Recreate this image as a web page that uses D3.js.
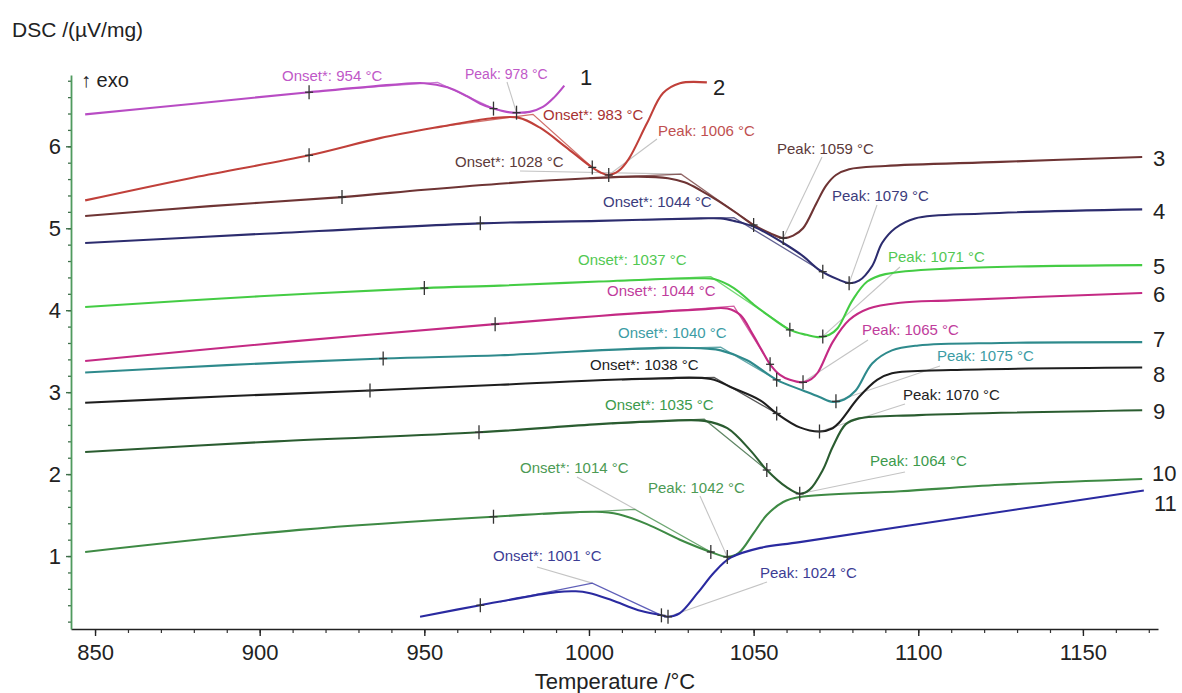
<!DOCTYPE html>
<html>
<head>
<meta charset="utf-8">
<script src="https://cdn.jsdelivr.net/npm/d3@7/dist/d3.min.js"></script>
<style>
  body { margin: 0; background: #fff; }
  svg { display: block; }
  text { font-family: "Liberation Sans", Arial, Helvetica, sans-serif; }
</style>
</head>
<body>
<svg id="chart" width="1182" height="693"></svg>
<script>
// ---- DSC traces: [temperature °C, DSC µV/mg] ----
const curve1 = [[847,6.39],[880,6.52],[915,6.66],[940,6.75],[950,6.77],[957,6.72],[963,6.61],[967,6.52],[971,6.46],[975,6.42],[978,6.41],[982,6.42],[986,6.48],[989.5,6.60],[992.5,6.74]];
const curve2 = [[847,5.34],[880,5.62],[915,5.89],[936.5,6.10],[955,6.24],[970,6.34],[978.5,6.35],[985,6.23],[993,5.99],[1000.3,5.76],[1003.5,5.68],[1006,5.65],[1009,5.70],[1012,5.84],[1017.6,6.28],[1022.5,6.65],[1027.6,6.77],[1035.8,6.78]];
const curve3 = [[847,5.15],[885,5.27],[925,5.38],[950,5.47],[975,5.55],[1000,5.61],[1015,5.63],[1024,5.61],[1029,5.56],[1034,5.46],[1039,5.34],[1045,5.18],[1050,5.04],[1055,4.94],[1059,4.88],[1062,4.91],[1065,5.00],[1069,5.30],[1072,5.52],[1075,5.65],[1079,5.72],[1090,5.76],[1125,5.81],[1168,5.87]];
const curve4 = [[847,4.82],[900,4.93],[967,5.06],[1003,5.09],[1034,5.12],[1040,5.12],[1044,5.09],[1050,5.02],[1059,4.82],[1065,4.66],[1070,4.49],[1076,4.37],[1079,4.33],[1082,4.36],[1086,4.54],[1089,4.82],[1093,5.00],[1099,5.12],[1120,5.18],[1168,5.23]];
const curve5 = [[847,4.04],[900,4.17],[950,4.27],[973,4.30],[1003,4.35],[1033,4.39],[1038,4.38],[1044,4.27],[1050,4.07],[1054,3.95],[1061,3.76],[1066,3.70],[1070,3.67],[1073,3.70],[1075.5,3.78],[1080,4.12],[1084.5,4.35],[1090,4.44],[1110,4.51],[1168,4.55]];
const curve6 = [[847,3.38],[910,3.62],[971.5,3.83],[1003,3.93],[1034,4.01],[1042,4.02],[1046,3.94],[1049.5,3.72],[1052.5,3.51],[1055,3.34],[1058,3.21],[1061,3.15],[1065,3.12],[1067.5,3.16],[1069.5,3.24],[1074,3.61],[1079,3.88],[1085,4.02],[1094.5,4.09],[1110,4.12],[1168,4.21]];
const curve7 = [[847,3.24],[890,3.33],[937.5,3.41],[973,3.45],[1021.6,3.54],[1036,3.53],[1040,3.51],[1048,3.39],[1057,3.15],[1065,3.02],[1070,2.94],[1074,2.88],[1077.5,2.91],[1081,3.02],[1086,3.35],[1092,3.51],[1100,3.57],[1125,3.60],[1168,3.61]];
const curve8 = [[847,2.87],[890,2.95],[933.5,3.02],[973,3.09],[1021.6,3.17],[1037,3.16],[1043.7,3.05],[1052,2.90],[1057,2.74],[1064,2.57],[1070,2.52],[1074,2.56],[1076,2.63],[1082,2.94],[1087.5,3.15],[1092,3.23],[1110,3.27],[1168,3.30]];
const curve9 = [[847,2.27],[905,2.40],[966.6,2.51],[1003,2.61],[1023.7,2.65],[1035,2.65],[1042,2.56],[1049,2.29],[1054,2.05],[1060,1.84],[1064,1.76],[1067,1.81],[1071,2.05],[1074,2.33],[1078,2.61],[1082,2.68],[1100,2.72],[1168,2.78]];
const curve10 = [[847,1.05],[912,1.32],[971,1.48],[1002,1.54],[1009,1.51],[1017.6,1.39],[1027.6,1.20],[1037,1.05],[1042,0.99],[1045.5,1.04],[1050,1.28],[1054,1.50],[1059,1.66],[1064,1.72],[1094.5,1.79],[1125,1.87],[1168,1.94]];
const curve11 = [[948.7,0.26],[967,0.40],[990,0.56],[996,0.57],[1000,0.55],[1007,0.46],[1015,0.34],[1021.6,0.28],[1024,0.26],[1027.5,0.30],[1033,0.55],[1038,0.80],[1043,0.98],[1052,1.10],[1064,1.17],[1115,1.48],[1168.5,1.80]];

const seriesNames = ["1","2","3","4","5","6","7","8","9","10","11"];
const onsetTemps  = [954, 983, 1028, 1044, 1037, 1044, 1040, 1038, 1035, 1014, 1001];
const onsetLevels = [6.78, 6.39, 5.66, 5.13, 4.41, 4.05, 3.55, 3.18, 2.67, 1.57, 0.67];
const peakTemps   = [978, 1006, 1059, 1079, 1071, 1065, 1075, 1070, 1064, 1042, 1024];
const baseTicks   = [915, 915, 925, 967, 950, 971.5, 937.5, 933.5, 966.6, 971, 967];
const inflTicks   = [971, 1001, 1050, 1071, 1061, 1055, 1057, 1057, 1054, 1037, 1022];

const xMajorTicks = [850, 900, 950, 1000, 1050, 1100, 1150];
const yMajorTicks = [1, 2, 3, 4, 5, 6];

const curves = [curve1, curve2, curve3, curve4, curve5, curve6, curve7, curve8, curve9, curve10, curve11];

// ---- styling / layout ----
const lineColors  = ["#b84cc4","#c0403a","#6e3434","#2c2c6e","#44cc44","#c42a84","#2e8a8c","#1e1e1e","#2a5c30","#3e8a44","#2a2aa0"];
const onsetColors = ["#c058c8","#a83232","#5c3a3a","#3c3c7c","#52c852","#c03c9c","#3c9ca4","#222222","#3c9a4c","#4c9a54","#3c3c94"];
const peakColors  = ["#c058c8","#c05050","#5c3a3a","#3c3c7c","#52c852","#c03c9c","#3c9ca4","#222222","#3c9a4c","#4c9a54","#3c3c94"];
// text anchors (left, baseline) in px
const onsetLabelPos = [[282,81],[543,120],[455,167],[603,207],[578,265],[607,296],[618,338],[590,370],[605,410],[520,473],[493,561]];
const peakLabelPos  = [[465,79],[658,136],[777,154],[832,201],[888,262],[862,335],[937,361],[903,400],[870,466],[648,493],[760,578]];
const peakLeaderFrom = [[507,82],[657,139],[822,157],[877,205],[900,267],[868,340],[940,366],[905,404],[905,472],[700,496],[767,582]];
const onsetLeaderFrom = {2:[520,171], 9:[577,477], 10:[537,567]};
const nameLabelPos = [[580,85],[713,95],[1153,166],[1153,219],[1153,274],[1153,302],[1153,347],[1153,382],[1153,419],[1152,481],[1154,511]];

const svg = d3.select("#chart");

const x = d3.scaleLinear().domain([842.7, 1172.8]).range([71, 1158]);
const y = d3.scaleLinear().domain([0.11, 6.87]).range([629, 75]);

function valueAt(data, t) {
  const i = d3.bisector(d => d[0]).left(data, t);
  if (i <= 0) return data[0][1];
  if (i >= data.length) return data[data.length - 1][1];
  const a = data[i - 1], b = data[i];
  return a[1] + (b[1] - a[1]) * (t - a[0]) / (b[0] - a[0]);
}

// ---- axes ----
const xMinor = d3.range(850, 1171, 10);
const yMinor = d3.range(0.2, 6.81, 0.2);

const gxMinor = svg.append("g").attr("transform", "translate(0,629)")
  .call(d3.axisBottom(x).tickValues(xMinor).tickSize(4).tickSizeOuter(0).tickFormat(""));
gxMinor.select(".domain").remove();
gxMinor.selectAll("line").attr("stroke", "#333").attr("stroke-width", 1.2);

const gx = svg.append("g").attr("transform", "translate(0,629)")
  .call(d3.axisBottom(x).tickValues(xMajorTicks).tickSize(7).tickSizeOuter(0).tickPadding(8).tickFormat(d3.format("d")));
gx.select(".domain").attr("stroke", "#222").attr("stroke-width", 1.6);
gx.selectAll(".tick line").attr("stroke", "#222").attr("stroke-width", 1.4);
gx.selectAll(".tick text").attr("font-size", 22).attr("fill", "#222")
  .attr("font-family", "'Liberation Sans', Arial, sans-serif");

const gyMinor = svg.append("g").attr("transform", "translate(71,0)")
  .call(d3.axisLeft(y).tickValues(yMinor).tickSize(3).tickSizeOuter(0).tickFormat(""));
gyMinor.select(".domain").remove();
gyMinor.selectAll("line").attr("stroke", "#3f6f4a").attr("stroke-width", 1.3);

const gy = svg.append("g").attr("transform", "translate(71,0)")
  .call(d3.axisLeft(y).tickValues(yMajorTicks).tickSize(5).tickSizeOuter(0).tickPadding(5).tickFormat(d3.format("d")));
gy.select(".domain").attr("stroke", "#4f9a5e").attr("stroke-width", 1.8);
gy.selectAll(".tick line").attr("stroke", "#3f6f4a").attr("stroke-width", 1.4);
gy.selectAll(".tick text").attr("font-size", 22).attr("fill", "#222")
  .attr("font-family", "'Liberation Sans', Arial, sans-serif");

// ---- titles ----
svg.append("text").attr("x", 12).attr("y", 37).attr("font-size", 21).attr("fill", "#222")
  .text("DSC /(µV/mg)");
svg.append("text").attr("x", 81).attr("y", 87).attr("font-size", 20).attr("fill", "#222")
  .text("↑ exo");
svg.append("text").attr("x", 615).attr("y", 689).attr("text-anchor", "middle")
  .attr("font-size", 22).attr("fill", "#222").text("Temperature /°C");

// ---- leader lines ----
const leaders = svg.append("g").attr("stroke", "#c4c4c4").attr("stroke-width", 1.1).attr("fill", "none");
curves.forEach((c, i) => {
  const p = peakTemps[i];
  leaders.append("line")
    .attr("x1", peakLeaderFrom[i][0]).attr("y1", peakLeaderFrom[i][1])
    .attr("x2", x(p)).attr("y2", y(valueAt(c, p)));
  if (onsetLeaderFrom[i]) {
    leaders.append("line")
      .attr("x1", onsetLeaderFrom[i][0]).attr("y1", onsetLeaderFrom[i][1])
      .attr("x2", x(onsetTemps[i])).attr("y2", y(onsetLevels[i]));
  }
});

// ---- onset constructions (extrapolated baseline + tangent) ----
const straight = d3.line().x(d => x(d[0])).y(d => y(d[1]));
curves.forEach((c, i) => {
  const o = onsetTemps[i];
  const pts = [[o - 28, valueAt(c, o - 28)], [o, onsetLevels[i]], [inflTicks[i], valueAt(c, inflTicks[i])]];
  svg.append("path").attr("d", straight(pts)).attr("fill", "none")
    .attr("stroke", lineColors[i]).attr("stroke-opacity", 0.75).attr("stroke-width", 1.3);
});

// ---- DSC curves ----
const smooth = d3.line().x(d => x(d[0])).y(d => y(d[1])).curve(d3.curveCatmullRom.alpha(0.5));
curves.forEach((c, i) => {
  svg.append("path").attr("d", smooth(c)).attr("fill", "none")
    .attr("stroke", lineColors[i]).attr("stroke-width", 2.1).attr("stroke-linejoin", "round");
});

// ---- event marks ----
const marks = svg.append("g").attr("stroke", "#333").attr("stroke-width", 1.3);
curves.forEach((c, i) => {
  [baseTicks[i], inflTicks[i], peakTemps[i]].forEach(t => {
    const px = x(t), py = y(valueAt(c, t));
    marks.append("line").attr("x1", px).attr("x2", px).attr("y1", py - 7).attr("y2", py + 7);
    marks.append("line").attr("x1", px - 4).attr("x2", px + 4).attr("y1", py).attr("y2", py);
  });
});

// ---- annotations ----
curves.forEach((c, i) => {
  svg.append("text").attr("x", onsetLabelPos[i][0]).attr("y", onsetLabelPos[i][1])
    .attr("font-size", 15).attr("fill", onsetColors[i])
    .text(`Onset*: ${onsetTemps[i]} °C`);
  svg.append("text").attr("x", peakLabelPos[i][0]).attr("y", peakLabelPos[i][1])
    .attr("font-size", i === 0 ? 14 : 15).attr("fill", peakColors[i])
    .text(`Peak: ${peakTemps[i]} °C`);
  svg.append("text").attr("x", nameLabelPos[i][0]).attr("y", nameLabelPos[i][1])
    .attr("font-size", 22).attr("fill", "#222").text(seriesNames[i]);
});
</script>
</body>
</html>
